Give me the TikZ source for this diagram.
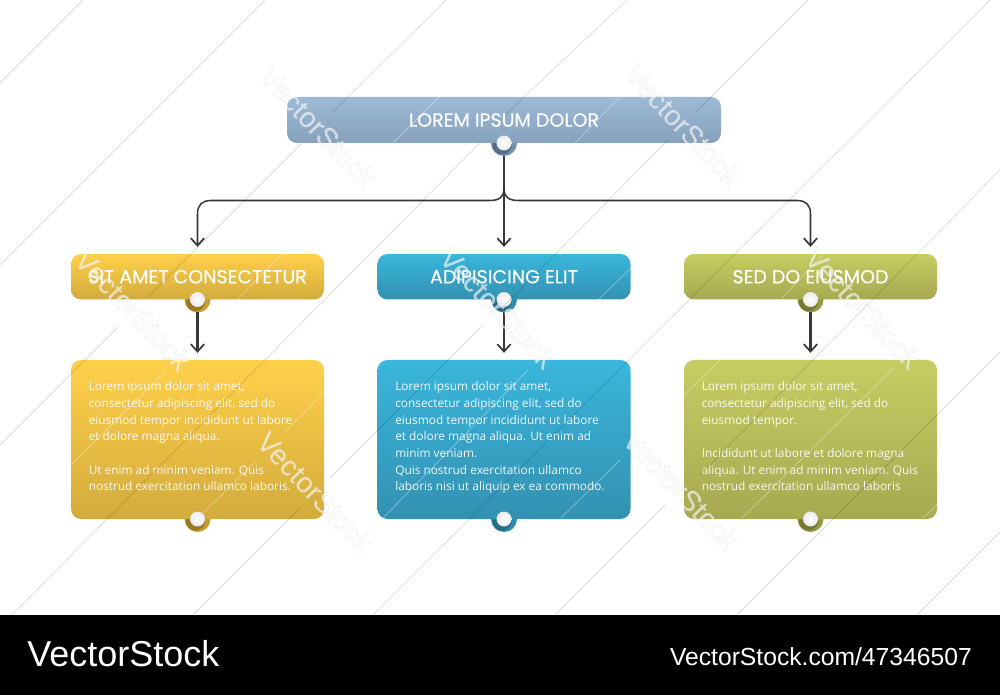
\documentclass[tikz,border=0pt]{standalone}
\usepackage{fontspec}
\usetikzlibrary{arrows.meta}
\setmainfont{Open Sans}
\newfontfamily\titlefont[FakeBold=0.25]{Poppins}
\newfontfamily\wmfont[FakeBold=0.7]{Liberation Sans}
\newfontfamily\footfont{Liberation Sans}
\definecolor{topA}{HTML}{9CBAD6}\definecolor{topB}{HTML}{86A1BC}\definecolor{topR}{HTML}{6F8FAF}
\definecolor{yelA}{HTML}{FFD04A}\definecolor{yelB}{HTML}{D2AB3C}\definecolor{yelR}{HTML}{C99C2E}
\definecolor{bluA}{HTML}{3AB6DC}\definecolor{bluB}{HTML}{3391B1}\definecolor{bluR}{HTML}{2F8DAC}
\definecolor{grnA}{HTML}{C7CC62}\definecolor{grnB}{HTML}{A6A951}\definecolor{grnR}{HTML}{979C42}
\definecolor{linkc}{HTML}{383838}
\tikzset{
  boxbase/.style={rectangle,rounded corners=7.5pt,inner sep=0pt,text=white,
    font=\titlefont\fontsize{14.25}{16}\selectfont},
  headbox/.style={boxbase,minimum width=189.75pt,minimum height=34.1pt},
  rootbox/.style={boxbase,minimum width=325.5pt,minimum height=34.5pt},
  bodybox/.style={boxbase,minimum width=189.75pt,minimum height=119.25pt},
  grad/.style n args={2}{top color=#1,bottom color=#2,middle color=#1!50!#2},
  bodytext/.style={anchor=north west,inner sep=0pt,text=white,align=left,text opacity=.92,
    font=\fontsize{8.9}{12.5}\selectfont},
  ringdot/.style={circle,inner sep=0pt,minimum size=19.5pt},
  crescent/.style={circle,inner sep=0pt,minimum size=14.5pt,fill=black,fill opacity=.22},
  ball/.style={circle,inner sep=0pt,minimum size=11.2pt,inner color=white,outer color=black!8},
  link/.style={draw=linkc,line width=1.6pt,shorten >=5.2pt,-{Straight Barb[length=5.5pt,width=10pt,line width=1.3pt]}},
  branch/.style={link,line width=1.15pt},
  wmline/.style={draw=black,draw opacity=.14,line width=.55pt},
  wmlight/.style={draw=white,draw opacity=.38,line width=.55pt},
  wm/.style={rotate=-46.5,opacity=.62,inner sep=0pt,
    font=\wmfont\fontsize{21.5}{24}\selectfont\color{white}\special{pdf:code 0.8 0.8 0.8 RG}},
}
\begin{document}
\begin{tikzpicture}[x=0.75pt,y=-0.75pt]
\useasboundingbox (0,0) rectangle (1000,695);
\fill[white] (0,0) rectangle (1000,695);

% rings behind the boxes
\node[ringdot,fill=topR] at (504,143) {};
\node[crescent] at (502,145) {};
\node[ringdot,fill=yelR] at (197.5,299.5) {};
\node[crescent] at (195.5,301.5) {};
\node[ringdot,fill=bluR] at (504,299.5) {};
\node[crescent] at (502,301.5) {};
\node[ringdot,fill=grnR] at (810.5,299.5) {};
\node[crescent] at (808.5,301.5) {};
\node[ringdot,fill=yelR] at (197.5,519) {};
\node[crescent] at (195.5,521) {};
\node[ringdot,fill=bluR] at (504,519) {};
\node[crescent] at (502,521) {};
\node[ringdot,fill=grnR] at (810.5,519) {};
\node[crescent] at (808.5,521) {};

% boxes
\node[rootbox,grad={topA}{topB}] (root) at (504,120) {LOREM IPSUM DOLOR};
\node[headbox,grad={yelA}{yelB}] (h1) at (197.5,276.75) {SIT AMET CONSECTETUR};
\node[headbox,grad={bluA}{bluB}] (h2) at (504,276.75) {ADIPISICING ELIT};
\node[headbox,grad={grnA}{grnB}] (h3) at (810.5,276.75) {SED DO EIUSMOD};
\node[bodybox,grad={yelA}{yelB}] (b1) at (197.5,439.5) {};
\node[bodybox,grad={bluA}{bluB}] (b2) at (504,439.5) {};
\node[bodybox,grad={grnA}{grnB}] (b3) at (810.5,439.5) {};

\node[bodytext] (t1) at (88.5,381.5) {Lorem ipsum dolor sit amet,\\consectetur adipiscing elit, sed do\\eiusmod tempor incididunt ut labore\\et dolore magna aliqua.\\[12.5pt]Ut enim ad minim veniam. Quis\\nostrud exercitation ullamco laboris.};
\node[bodytext] (t2) at (395,381.5) {Lorem ipsum dolor sit amet,\\consectetur adipiscing elit, sed do\\eiusmod tempor incididunt ut labore\\et dolore magna aliqua. Ut enim ad\\minim veniam.\\Quis nostrud exercitation ullamco\\laboris nisi ut aliquip ex ea commodo.};
\node[bodytext] (t3) at (701.5,381.5) {Lorem ipsum dolor sit amet,\\consectetur adipiscing elit, sed do\\eiusmod tempor.\\[12.5pt]Incididunt ut labore et dolore magna\\aliqua. Ut enim ad minim veniam. Quis\\nostrud exercitation ullamco laboris};

% balls
\node[ball] (r0) at (504,143) {};
\node[ball] (r1) at (197.5,299.5) {};
\node[ball] (r2) at (504,299.5) {};
\node[ball] (r3) at (810.5,299.5) {};
\node[ball] (e1) at (197.5,519) {};
\node[ball] (e2) at (504,519) {};
\node[ball] (e3) at (810.5,519) {};

% connectors
\coordinate (jn) at (504,189);
\coordinate (stem) at (504,156);
\coordinate (d1) at (197.5,312.5);
\coordinate (d2) at (504,312.5);
\coordinate (d3) at (810.5,312.5);
\draw[link] (stem) -- (h2.north);
\draw[branch] (jn) .. controls (504,196) and (500,200.5) .. (490,200.5) -- (211,200.5) .. controls (202,200.5) and (197.5,205) .. (197.5,214) -- (h1.north);
\draw[branch] (jn) .. controls (504,196) and (508,200.5) .. (518,200.5) -- (797,200.5) .. controls (806,200.5) and (810.5,205) .. (810.5,214) -- (h3.north);
\draw[link] (d1) -- (b1.north);
\draw[link] (d2) -- (b2.north);
\draw[link] (d3) -- (b3.north);

% watermark hairlines
\path[wmline]
  (0,83) -- (83,0)
  (0,265) -- (265,0)
  (0,445) -- (118,327) (148,297) -- (302,143) (333,112) -- (446,0)
  (12,615) -- (480,143) (507,113) -- (627,0)
  (193,615) -- (300,508) (330,478) -- (483,325) (500,310) -- (668,140) (697,111) -- (808,0)
  (373,615) -- (990,0)
  (555,615) -- (665,505) (700,475) -- (1000,170)
  (737,615) -- (1000,352)
  (917,615) -- (1000,532);
\path[wmlight]
  (393,143) -- (439,97) (575,143) -- (620,97)
  (238,299) -- (282,254) (599,299) -- (631,268) (782,298) -- (825,253)
  (72,464) -- (165,372) (203,513) -- (255,462) (285,432) -- (323,393)
  (383,518) -- (528,370) (561,518) -- (620,460) (684,395) -- (720,360)
  (742,518) -- (895,367) (923,518) -- (937,505);

% watermarks
\node[wm] (w1) at (318,127) {VectorStock};
\node[wm] (w2) at (683,125) {VectorStock};
\node[wm] (w3) at (133,310) {VectorStock};
\node[wm] (w4) at (498,308) {VectorStock};
\node[wm] (w5) at (863,308) {VectorStock};
\node[wm] (w6) at (315,492) {VectorStock};
\node[wm] (w7) at (681,490) {VectorStock};

% footer band
\fill[black] (0,615) rectangle (1000,695);
\node[anchor=west,inner sep=0pt,text=white,font=\footfont\fontsize{27}{30}\selectfont] (f1) at (27,654) {VectorStock};
\node[anchor=east,inner sep=0pt,text=white,font=\footfont\fontsize{18.5}{20}\selectfont] (f2) at (972,657) {VectorStock.com/47346507};
\end{tikzpicture}
\end{document}
